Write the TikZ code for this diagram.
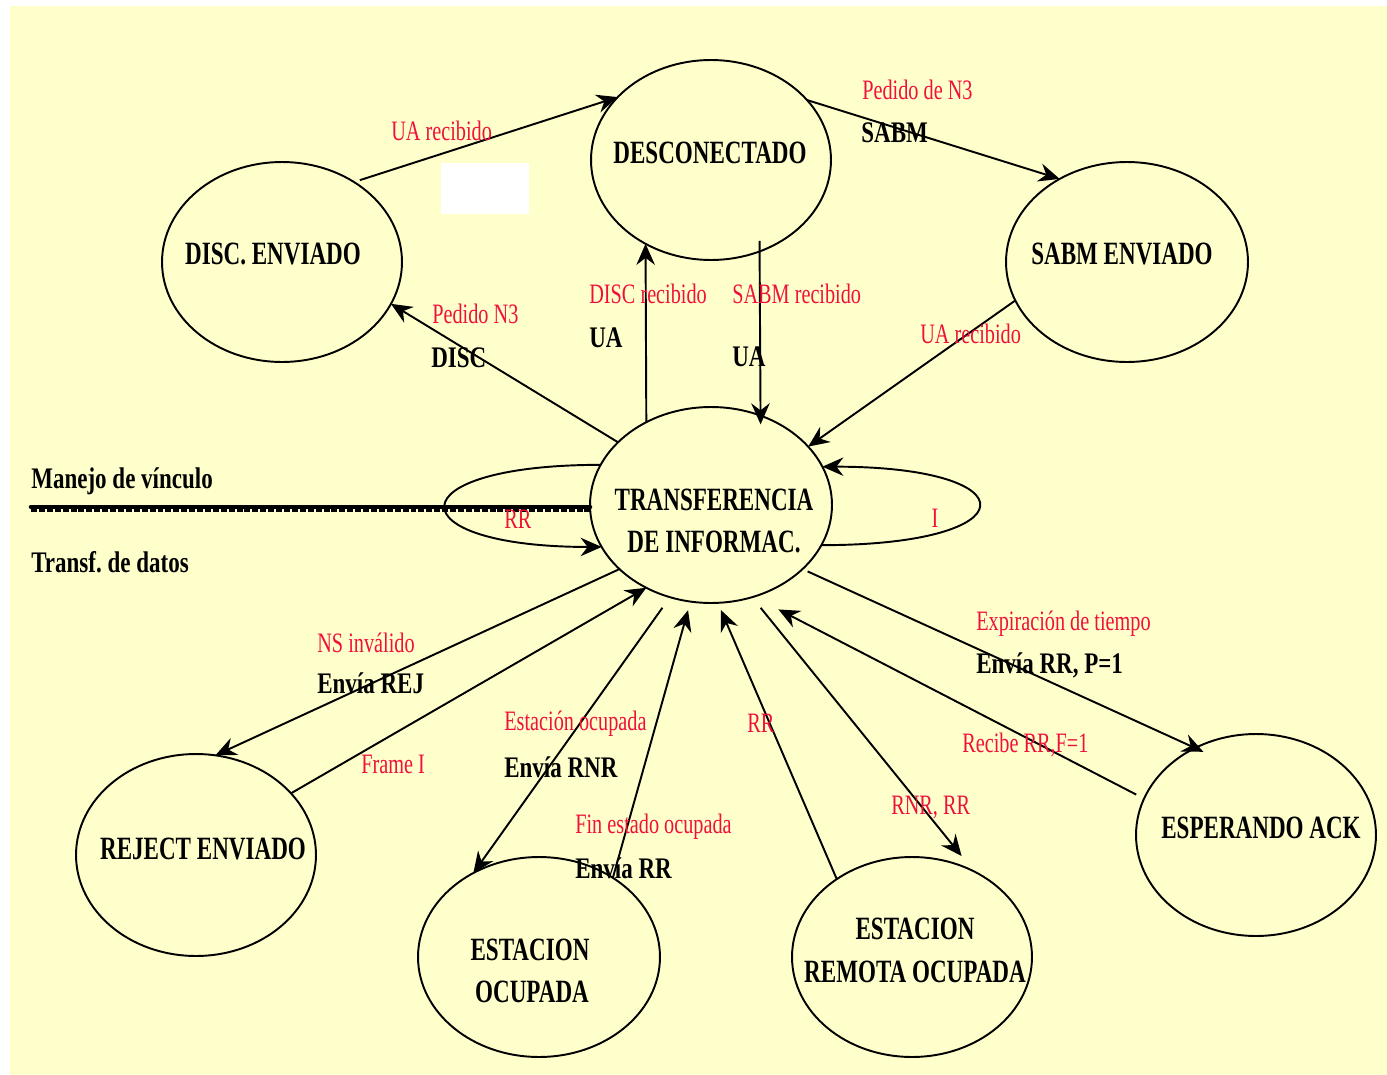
\documentclass[tikz,border=0pt]{standalone}
\usepackage{fontspec}
\setmainfont{Liberation Serif}
\usepackage{graphicx}
\usetikzlibrary{shapes.geometric,arrows.meta}
\definecolor{paper}{RGB}{255,255,204}
\definecolor{evred}{RGB}{240,16,60}
% condensed lettering
\newcommand\stn[1]{\scalebox{0.71}[1]{#1}}
\newcommand\evt[1]{\scalebox{0.72}[1]{#1}}
\newcommand\acn[1]{\scalebox{0.77}[1]{#1}}
\begin{document}
\begin{tikzpicture}[x=0.02cm,y=-0.02cm,
  state/.style={draw,ellipse,line width=1.1pt,inner sep=0pt,outer sep=0pt,
                minimum width=4.8cm,minimum height=4cm},
  stname/.style={inner sep=0pt,anchor=base,font=\fontsize{18.5}{22}\selectfont\bfseries},
  ev/.style={inner sep=0pt,anchor=base west,text=evred,font=\fontsize{16}{18}\selectfont},
  act/.style={inner sep=0pt,anchor=base west,font=\fontsize{17}{20}\selectfont\bfseries},
  conn/.style={line width=1.1pt,-{Stealth[length=12pt,width=10.5pt,inset=4pt]}}
]
\useasboundingbox (0,0) rectangle (1387,1075);
\fill[white] (0,0) rectangle (1387,1075);
\fill[paper] (10,6) rectangle (1387,1075);
\fill[white] (441,163) rectangle (529,214);

% states
\node[state] (desc) at (711,160) {};
\node[state] (denv) at (282,262) {};
\node[state,minimum width=4.84cm] (sabm) at (1127,262) {};
\node[state,minimum width=4.84cm,minimum height=3.92cm] (trans) at (711,505) {};
\node[state,minimum height=4.04cm] (rej) at (196,855) {};
\node[state,minimum width=4.84cm] (eoc) at (539,957) {};
\node[state] (ero) at (912,957) {};
\node[state,minimum height=4.04cm] (esp) at (1256,835) {};

% state names
\node[stname] (nDesc) at (710,163) {\stn{DESCONECTADO}};
\node[stname] (nDenv) at (273,264) {\stn{DISC. ENVIADO}};
\node[stname] (nSabm) at (1122,264) {\stn{SABM ENVIADO}};
\node[stname] (nTransA) at (714,510) {\stn{TRANSFERENCIA}};
\node[stname] (nTransB) at (714,552) {\stn{DE INFORMAC.}};
\node[stname] (nRej) at (203,859) {\stn{REJECT ENVIADO}};
\node[stname] (nEocA) at (530,960) {\stn{ESTACION}};
\node[stname] (nEocB) at (532,1002) {\stn{OCUPADA}};
\node[stname] (nEroA) at (915,939) {\stn{ESTACION}};
\node[stname] (nEroB) at (915,982) {\stn{REMOTA OCUPADA}};
\node[stname] (nEsp) at (1261,838) {\stn{ESPERANDO ACK}};

% divider between link management and data transfer
\coordinate (divL) at (31,507);
\draw[line width=2.6pt,line cap=round] (divL) -- (divL -| trans.west);
\draw[line width=1.7pt,dash pattern=on 3.4pt off 1.1pt]
  ([yshift=-1.9pt]divL) -- ([yshift=-1.9pt]divL -| trans.west);
\node[act] (lnk) at (31,488) {\acn{Manejo de vínculo}};
\node[act] (dat) at (31,572) {\acn{Transf.\ de datos}};

% transitions
\draw[conn,shorten <=3.5pt] (denv.48) -- (desc.146);
\draw[conn] (desc.32) -- (sabm.129);
\draw[conn] (trans.146) -- (denv.-21);
\draw[conn] (trans.128) -- (desc.-128);
\draw[conn,shorten <=-6pt,shorten >=-5pt] (desc.-62) -- (trans.61);
\draw[conn] (sabm.199) -- (trans.31);
\draw[conn] (trans.-20.6) .. controls +(209,0) and +(209,0) .. (trans.19.4);
\draw[conn] (trans.160.6) .. controls +(-207,0) and +(-207,0) .. (trans.201.1);
\draw[conn] (trans.215) -- (rej.79);
\draw[conn] (rej.33) -- (trans.232);
\draw[conn,shorten <=7.4pt] (trans.-114.2) -- (eoc.128.4);
\draw[conn,shorten >=5.1pt] (eoc.47.7) -- (trans.-102.6);
\draw[conn,shorten >=4.5pt] (ero.134.6) -- (trans.-86);
\draw[conn,shorten <=7.8pt,shorten >=11.3pt] (trans.-66.2) -- (ero.54.9);
\draw[conn,shorten <=5pt,shorten >=15.8pt] (esp.162.2) -- (trans.-65.8);
\draw[conn,shorten <=3.2pt,shorten >=-5.2pt] (trans.-35.4) -- (esp.125.2);

% events (red) and actions (black)
\node[ev] (e1) at (391,140) {\evt{UA recibido}};
\node[ev] (e2) at (862,99) {\evt{Pedido de N3}};
\node[act] (a2) at (861,142) {\acn{SABM}};
\node[ev] (e3) at (589,303) {\evt{DISC recibido}};
\node[act] (a3) at (589,347) {\acn{UA}};
\node[ev] (e4) at (732,303) {\evt{SABM recibido}};
\node[act] (a4) at (732,366) {\acn{UA}};
\node[ev] (e5) at (432,323) {\evt{Pedido N3}};
\node[act] (a5) at (431,367) {\acn{DISC}};
\node[ev] (e6) at (920,343) {\evt{UA recibido}};
\node[ev] (e7) at (504,528) {\evt{RR}};
\node[ev,anchor=base] (e8) at (935,527) {\evt{I}};
\node[ev] (e9) at (317,652) {\evt{NS inválido}};
\node[act] (a9) at (317,693) {\acn{Envía REJ}};
\node[ev] (e10) at (361,773) {\evt{Frame I}};
\node[ev] (e11) at (504,730) {\evt{Estación ocupada}};
\node[act] (a11) at (504,777) {\acn{Envía RNR}};
\node[ev] (e12) at (575,833) {\evt{Fin estado ocupada}};
\node[act] (a12) at (575,878) {\acn{Envía RR}};
\node[ev] (e13) at (747,732) {\evt{RR}};
\node[ev] (e14) at (891,814) {\evt{RNR, RR}};
\node[ev] (e15) at (962,752) {\evt{Recibe RR,F=1}};
\node[ev] (e16) at (976,630) {\evt{Expiración de tiempo}};
\node[act] (a16) at (976,673) {\acn{Envía RR, P=1}};
\end{tikzpicture}
\end{document}
